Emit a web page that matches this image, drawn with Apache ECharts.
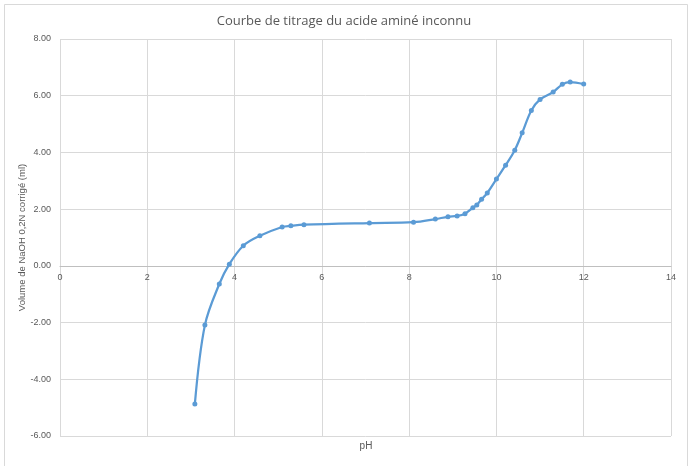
<!DOCTYPE html>
<html>
<head>
<meta charset="utf-8">
<script src="https://cdn.jsdelivr.net/npm/echarts@6/dist/echarts.min.js"></script>
<style>
html,body{margin:0;padding:0;background:#fff;}
#chart{width:688px;height:466px;}
</style>
</head>
<body>
<div id="chart"></div>
<script>
var titleText = "Courbe de titrage du acide aminé inconnu";
var xName = "pH";
var yName = "Volume de NaOH 0,2N corrigé (ml)";
var phValues = [3.09, 3.32, 3.65, 3.88, 4.20, 4.58, 5.09, 5.29, 5.59, 7.09, 8.10, 8.60, 8.89, 9.10, 9.28, 9.46, 9.55, 9.66, 9.79, 10.00, 10.21, 10.42, 10.59, 10.80, 11.00, 11.30, 11.51, 11.69, 12.00];
var volValues = [-4.87, -2.09, -0.64, 0.06, 0.71, 1.06, 1.37, 1.41, 1.45, 1.51, 1.54, 1.65, 1.73, 1.76, 1.84, 2.05, 2.15, 2.35, 2.57, 3.06, 3.55, 4.08, 4.69, 5.48, 5.87, 6.13, 6.40, 6.48, 6.41];

var pts = phValues.map(function(p, i){ return [p, volValues[i]]; });
var chart = echarts.init(document.getElementById('chart'), null, {renderer:'canvas'});
var txt = '#595959';
var font = '"Liberation Sans", Arial, sans-serif';
var gridTop = 39, gridBottom = 30, H = 466;
var yMin = -6, yMax = 8;
var plotH = H - gridTop - gridBottom;
var zeroOffset = -Math.round(plotH * (0 - yMin) / (yMax - yMin));
chart.setOption({
  animation:false,
  backgroundColor:'#fff',
  title:{text:titleText, left:'center', top:10, textStyle:{fontFamily:'"Open Sans", sans-serif', fontWeight:'normal', fontSize:13, color:txt}},
  grid:{left:60, right:17, top:gridTop, bottom:gridBottom, containLabel:false},
  xAxis:{type:'value', min:0, max:14, interval:2, position:'bottom', offset:zeroOffset,
    axisLine:{show:true, onZero:false, lineStyle:{color:'#bfbfbf'}},
    axisTick:{show:false},
    axisLabel:{color:txt, fontSize:9, fontFamily:font, margin:7},
    splitLine:{show:true, lineStyle:{color:'#d9d9d9'}}},
  yAxis:{type:'value', min:yMin, max:yMax, interval:2,
    name:yName, nameLocation:'middle', nameGap:33, nameRotate:90, nameMoveOverlap:false,
    nameTextStyle:{color:txt, fontSize:9.5, fontFamily:font},
    axisLine:{show:false}, axisTick:{show:false},
    axisLabel:{color:txt, fontSize:9, fontFamily:font, margin:9, formatter:function(v){return v.toFixed(2);}},
    splitLine:{show:true, lineStyle:{color:'#d9d9d9'}}},
  graphic:[
    {type:'rect', left:2, top:2, shape:{width:683, height:462}, style:{fill:'none', stroke:'#d9d9d9', lineWidth:1}, silent:true, z:-1},
    {type:'text', x:366, y:446, style:{text:xName, fill:txt, font:'10px "Liberation Sans", Arial, sans-serif', align:'center', verticalAlign:'middle'}}
  ],
  series:[{type:'line', data:pts, smooth:0.35, showSymbol:true, symbol:'circle', symbolSize:5,
    lineStyle:{color:'#5b9bd5', width:2.25}, itemStyle:{color:'#5b9bd5'}}]
});
</script>
</body>
</html>
